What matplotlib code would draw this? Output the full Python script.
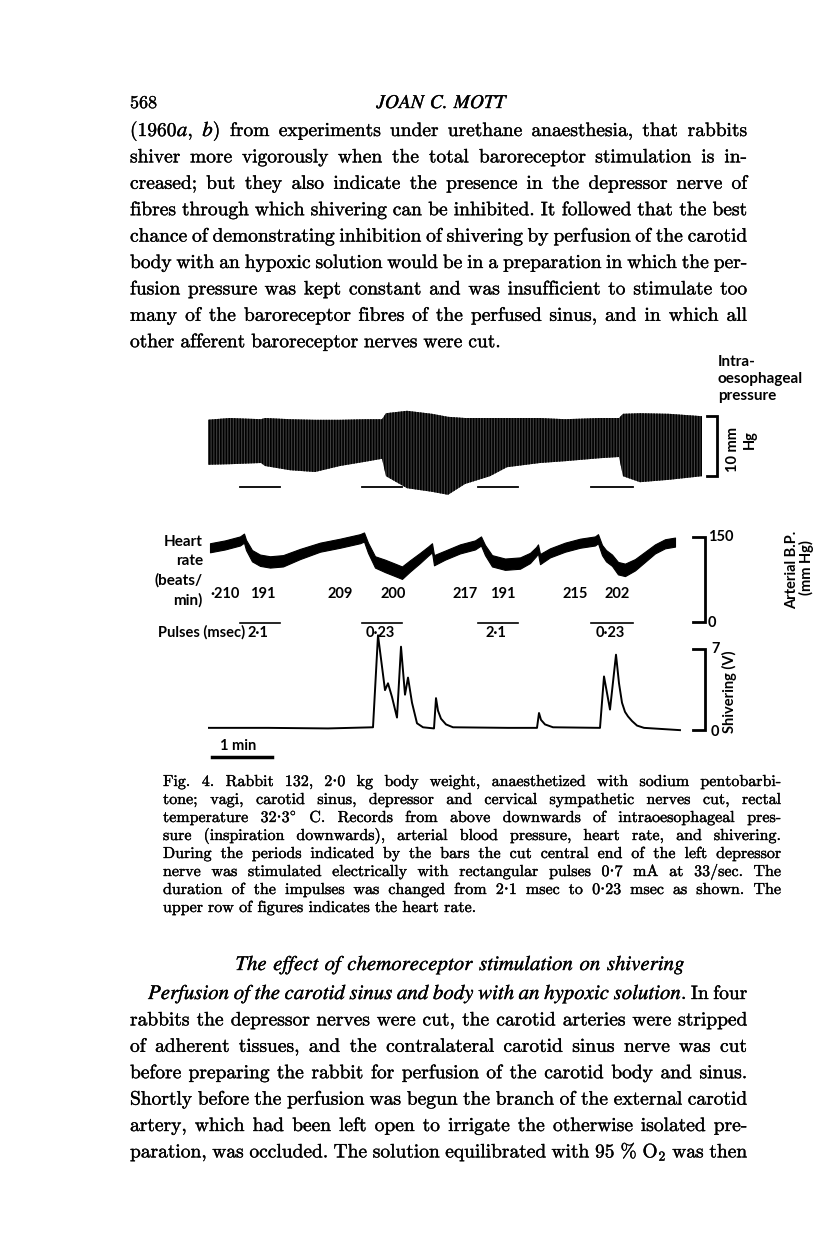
import matplotlib
matplotlib.use("Agg")
import matplotlib.pyplot as plt
import matplotlib.patheffects as pe

plt.rcParams["mathtext.fontset"] = "cm"
plt.rcParams["hatch.linewidth"] = 1.2

W, H = 816, 1258
SERIF = ["cmr10", "DejaVu Serif"]
ITAL = ["STIXGeneral", "DejaVu Serif"]
SANS = ["Lato", "DejaVu Sans"]
INK = [pe.withStroke(linewidth=0.25, foreground="black")]

# ---------------- data ----------------
# time in seconds from the start of the record (1 min bar = 60 s)
stim_periods = [(32, 72), (154, 194), (270, 310), (383, 425)]
pulse_msec = ["2·1", "0·23", "2·1", "0·23"]

# intra-oesophageal pressure envelope (mm Hg, relative; inspiration downwards)
oes_t = [-1, 22, 53, 57, 82, 107, 132, 157, 174, 178, 199, 224, 240, 257,
         282, 299, 332, 357, 392, 411, 415, 432, 461, 494]
oes_top = [-0.3, 0.0, -0.2, 0.0, -0.2, -0.3, -0.3, -0.2, -0.2, 0.8, 1.2, 0.7,
           0.2, 0.0, 0.0, 0.0, 0.0, -0.2, 0.0, 0.0, 0.7, 0.8, 0.7, 0.3]
oes_bottom = [-7.8, -7.7, -7.5, -8.0, -8.7, -9.0, -8.0, -7.3, -6.8, -9.7, -11.7,
              -12.3, -12.8, -11.0, -9.7, -8.2, -7.5, -7.2, -6.7, -6.5, -9.7,
              -10.7, -10.3, -9.7]

# arterial blood pressure, mean of the band and pulse pressure (mm Hg)
bp_t = [2, 17, 32, 36, 38, 44, 52, 62, 75, 92, 112, 132, 152, 156, 160, 167,
        177, 187, 194, 202, 212, 220, 224, 226, 237, 252, 267, 273, 277, 284,
        297, 312, 322, 328, 330, 332, 342, 357, 372, 387, 390, 394, 398, 404,
        410, 417, 427, 437, 447, 457, 467]
bp_mean = [131, 136, 143, 148, 136, 117, 109, 106, 108, 120, 132, 139, 147,
           150, 131, 106, 99, 92, 87, 99, 113, 125, 131, 109, 118, 129, 136,
           143, 127, 108, 102, 104, 113, 124, 129, 111, 122, 132, 139, 143,
           147, 127, 117, 109, 95, 92, 101, 115, 129, 138, 141]
bp_pulse = [16, 16, 16, 16, 18, 20, 20, 20, 20, 18, 16, 16, 16, 16, 18, 20,
            22, 22, 22, 20, 18, 16, 16, 18, 16, 16, 16, 16, 18, 20, 20, 20,
            18, 16, 16, 18, 16, 16, 16, 16, 16, 18, 20, 20, 22, 22, 20, 18,
            16, 16, 16]

# heart rate (beats/min) before and during each stimulation
hr_t = [17, 55, 132, 185, 257, 295, 367, 409]
hr_values = ["·210", "191", "209", "200", "217", "191", "215", "202"]

# shivering (V)
sh_t = [0, 60, 120, 165, 170, 177, 180, 184, 189, 193, 197, 200, 204, 209,
        215, 226, 228, 230, 233, 238, 245, 300, 329, 331, 333, 337, 345, 392,
        396, 402, 408, 411, 414, 417, 420, 424, 429, 436, 472]
sh_v = [0.1, 0.1, 0.05, 0.15, 8.2, 3.4, 4.0, 2.8, 1.0, 7.2, 3.0, 4.5, 2.3,
        0.5, 0.15, 0.05, 2.7, 1.6, 0.9, 0.4, 0.15, 0.1, 0.1, 1.4, 0.8, 0.4,
        0.15, 0.1, 4.6, 1.7, 6.5, 4.0, 2.3, 1.5, 1.1, 0.7, 0.3, 0.1, -0.1]

# ---------------- page text (*...* = italic) ----------------
para1 = [
    "(1960*a*, *b*) from experiments under urethane anaesthesia, that rabbits",
    "shiver more vigorously when the total baroreceptor stimulation is in-",
    "creased; but they also indicate the presence in the depressor nerve of",
    "fibres through which shivering can be inhibited. It followed that the best",
    "chance of demonstrating inhibition of shivering by perfusion of the carotid",
    "body with an hypoxic solution would be in a preparation in which the per-",
    "fusion pressure was kept constant and was insufficient to stimulate too",
    "many of the baroreceptor fibres of the perfused sinus, and in which all",
    "other afferent baroreceptor nerves were cut.",
]
caption = [
    "Fig. 4.  Rabbit 132, 2·0 kg body weight, anaesthetized with sodium pentobarbi-",
    "tone; vagi, carotid sinus, depressor and cervical sympathetic nerves cut, rectal",
    "temperature 32·3° C.  Records from above downwards of intraoesophageal pres-",
    "sure (inspiration downwards), arterial blood pressure, heart rate, and shivering.",
    "During the periods indicated by the bars the cut central end of the left depressor",
    "nerve was stimulated electrically with rectangular pulses 0·7 mA at 33/sec. The",
    "duration of the impulses was changed from 2·1 msec to 0·23 msec as shown. The",
    "upper row of figures indicates the heart rate.",
]
heading = "*The effect of chemoreceptor stimulation on shivering*"
para2 = [
    "*Perfusion of the carotid sinus and body with an hypoxic solution*.  In four",
    "rabbits the depressor nerves were cut, the carotid arteries were stripped",
    "of adherent tissues, and the contralateral carotid sinus nerve was cut",
    "before preparing the rabbit for perfusion of the carotid body and sinus.",
    "Shortly before the perfusion was begun the branch of the external carotid",
    "artery, which had been left open to irrigate the otherwise isolated pre-",
    "paration, was occluded. The solution equilibrated with 95 % O$_2$ was then",
]

fig = plt.figure(figsize=(W / 100, H / 100), dpi=100)
page = fig.add_axes([0, 0, 1, 1])
page.set_xlim(0, W)
page.set_ylim(H, 0)
page.axis("off")
renderer = fig.canvas.get_renderer()


def tokens(line):
    italic = False
    words = []
    for tok in line.split():
        segs = []
        for k, part in enumerate(tok.split("*")):
            if k > 0:
                italic = not italic
            if not part:
                continue
            if italic:
                segs.append((part, ITAL, "italic"))
            elif "°" in part:
                pre, post = part.split("°")
                segs.append((pre, SERIF, "normal"))
                segs.append((r"$^{\circ}$", SERIF, "normal"))
                if post:
                    segs.append((post, SERIF, "normal"))
            else:
                segs.append((part, SERIF, "normal"))
        words.append(segs)
    return words


def set_line(line, y, x0, x1, size, justify=True, center=None, isize=None):
    words = tokens(line)
    objs, widths = [], []
    for segs in words:
        row = []
        for part, fam, style in segs:
            fs = size if style == "normal" else (isize or size * 1.04)
            t = page.text(0, y, part, fontsize=fs, family=fam, style=style,
                          va="baseline", path_effects=INK)
            row.append((t, t.get_window_extent(renderer).width))
        objs.append(row)
        widths.append(sum(w for _, w in row))
    gap = size * 100 / 72 * 0.33
    if justify and len(objs) > 1:
        gap = (x1 - x0 - sum(widths)) / (len(objs) - 1)
    if center is not None:
        x0 = center - (sum(widths) + gap * (len(objs) - 1)) / 2
    x = x0
    for row, w in zip(objs, widths):
        xs = x
        for t, ws in row:
            t.set_x(xs)
            xs += ws
        x += w + gap


set_line("568", 108, 130, 0, 13, justify=False)
set_line("*JOAN C. MOTT*", 108, 0, 0, 13, justify=False, center=441, isize=14)

for i, line in enumerate(para1):
    set_line(line, 136 + 26.4 * i, 130, 747, 14, justify=i < len(para1) - 1,
             isize=15)

for i, line in enumerate(caption):
    set_line(line, 786 + 18 * i, 163, 781, 11.5, justify=i < len(caption) - 1)

set_line(heading, 970, 0, 0, 14, justify=False, center=460, isize=15)

for i, line in enumerate(para2):
    set_line(line, 999 + 26.4 * i, 148 if i == 0 else 130, 747, 14, isize=15)


# ---------------- record traces ----------------
def px_axes(x0, x1, y0, y1, xlim, ylim):
    ax = fig.add_axes([x0 / W, 1 - y1 / H, (x1 - x0) / W, (y1 - y0) / H])
    ax.set_xlim(*xlim)
    ax.set_ylim(*ylim)
    ax.axis("off")
    ax.patch.set_visible(False)
    return ax


ax_oes = px_axes(208, 720, 400, 500, (0, 512), (-82 / 6, 18 / 6))
ax_bp = px_axes(208, 720, 530, 630, (0, 512), (-8 / 0.5667, 92 / 0.5667))
ax_sh = px_axes(208, 720, 620, 770, (0, 512), (-41 / 11.43, 109 / 11.43))

# oesophageal pressure: dense breathing excursions shown as a hatched band
ax_oes.fill_between(oes_t, oes_bottom, oes_top, facecolor="0.25",
                    edgecolor="black", hatch="|" * 6, linewidth=0)
for a, b in stim_periods:
    ax_oes.plot([a, b], [-11.5, -11.5], color="black", lw=1.3, clip_on=False)
ax_oes.plot([499, 509, 509, 499], [0.3, 0.3, -9.7, -9.7], color="black",
            lw=2, clip_on=False, solid_joinstyle="miter")

# arterial blood pressure band
lo = [m - p / 2 for m, p in zip(bp_mean, bp_pulse)]
hi = [m + p / 2 for m, p in zip(bp_mean, bp_pulse)]
ax_bp.fill_between(bp_t, lo, hi, color="black", linewidth=0.8)
ax_bp.plot([485, 497, 497, 485], [150, 150, 0, 0], color="black", lw=2,
           clip_on=False, solid_joinstyle="miter")

lab = dict(family=SANS, weight="bold", fontsize=10.5)
ax_bp.text(500, 150, "150", va="center", **lab)
ax_bp.text(500, -2, "0", va="center", **lab)
for t, v in zip(hr_t, hr_values):
    ax_bp.text(t, 49, v, ha="center", va="center", **lab)
for (a, b), txt in zip(stim_periods, pulse_msec):
    ax_bp.plot([a, b], [-1, -1], color="black", lw=1.2, clip_on=False)
    ax_bp.text((a + b) / 2 - 2, -19, txt, ha="center", va="center", **lab)

# shivering
ax_sh.plot(sh_t, sh_v, color="black", lw=1.4)
ax_sh.plot([485, 497, 497, 485], [7, 7, -0.1, -0.1], color="black", lw=2,
           clip_on=False, solid_joinstyle="miter")
ax_sh.text(503, 7, "7", va="center", **lab)
ax_sh.text(503, -0.3, "0", va="center", **lab)
ax_sh.plot([4, 64], [-2.45, -2.45], color="black", lw=2.5)
ax_sh.text(30, -1.5, "1 min", ha="center", va="center", **lab)

# labels around the record
big = dict(family=SANS, weight="bold", fontsize=11)
for txt, y in [("Heart", 542), ("rate", 561), ("(beats/", 580), ("min)", 600)]:
    page.text(203, y, txt, ha="right", va="center", **big)
page.text(158, 632, "Pulses (msec)", ha="left", va="center", **lab)
for txt, y in [("Intra-", 362), ("oesophageal", 379), ("pressure", 396)]:
    page.text(718, y, txt, ha="left", va="center", **big)
page.text(733, 450, "10 mm", rotation=90, ha="center", va="center", **lab)
page.text(750, 440, "Hg", rotation=90, ha="center", va="center", **lab)
page.text(792, 570, "Arterial B.P.", rotation=90, ha="center", va="center", **lab)
page.text(806, 568, "(mm Hg)", rotation=90, ha="center", va="center", **lab)
page.text(729, 692, "Shivering (V)", rotation=90, ha="center", va="center", **lab)

fig.savefig("out.png", dpi=100)
